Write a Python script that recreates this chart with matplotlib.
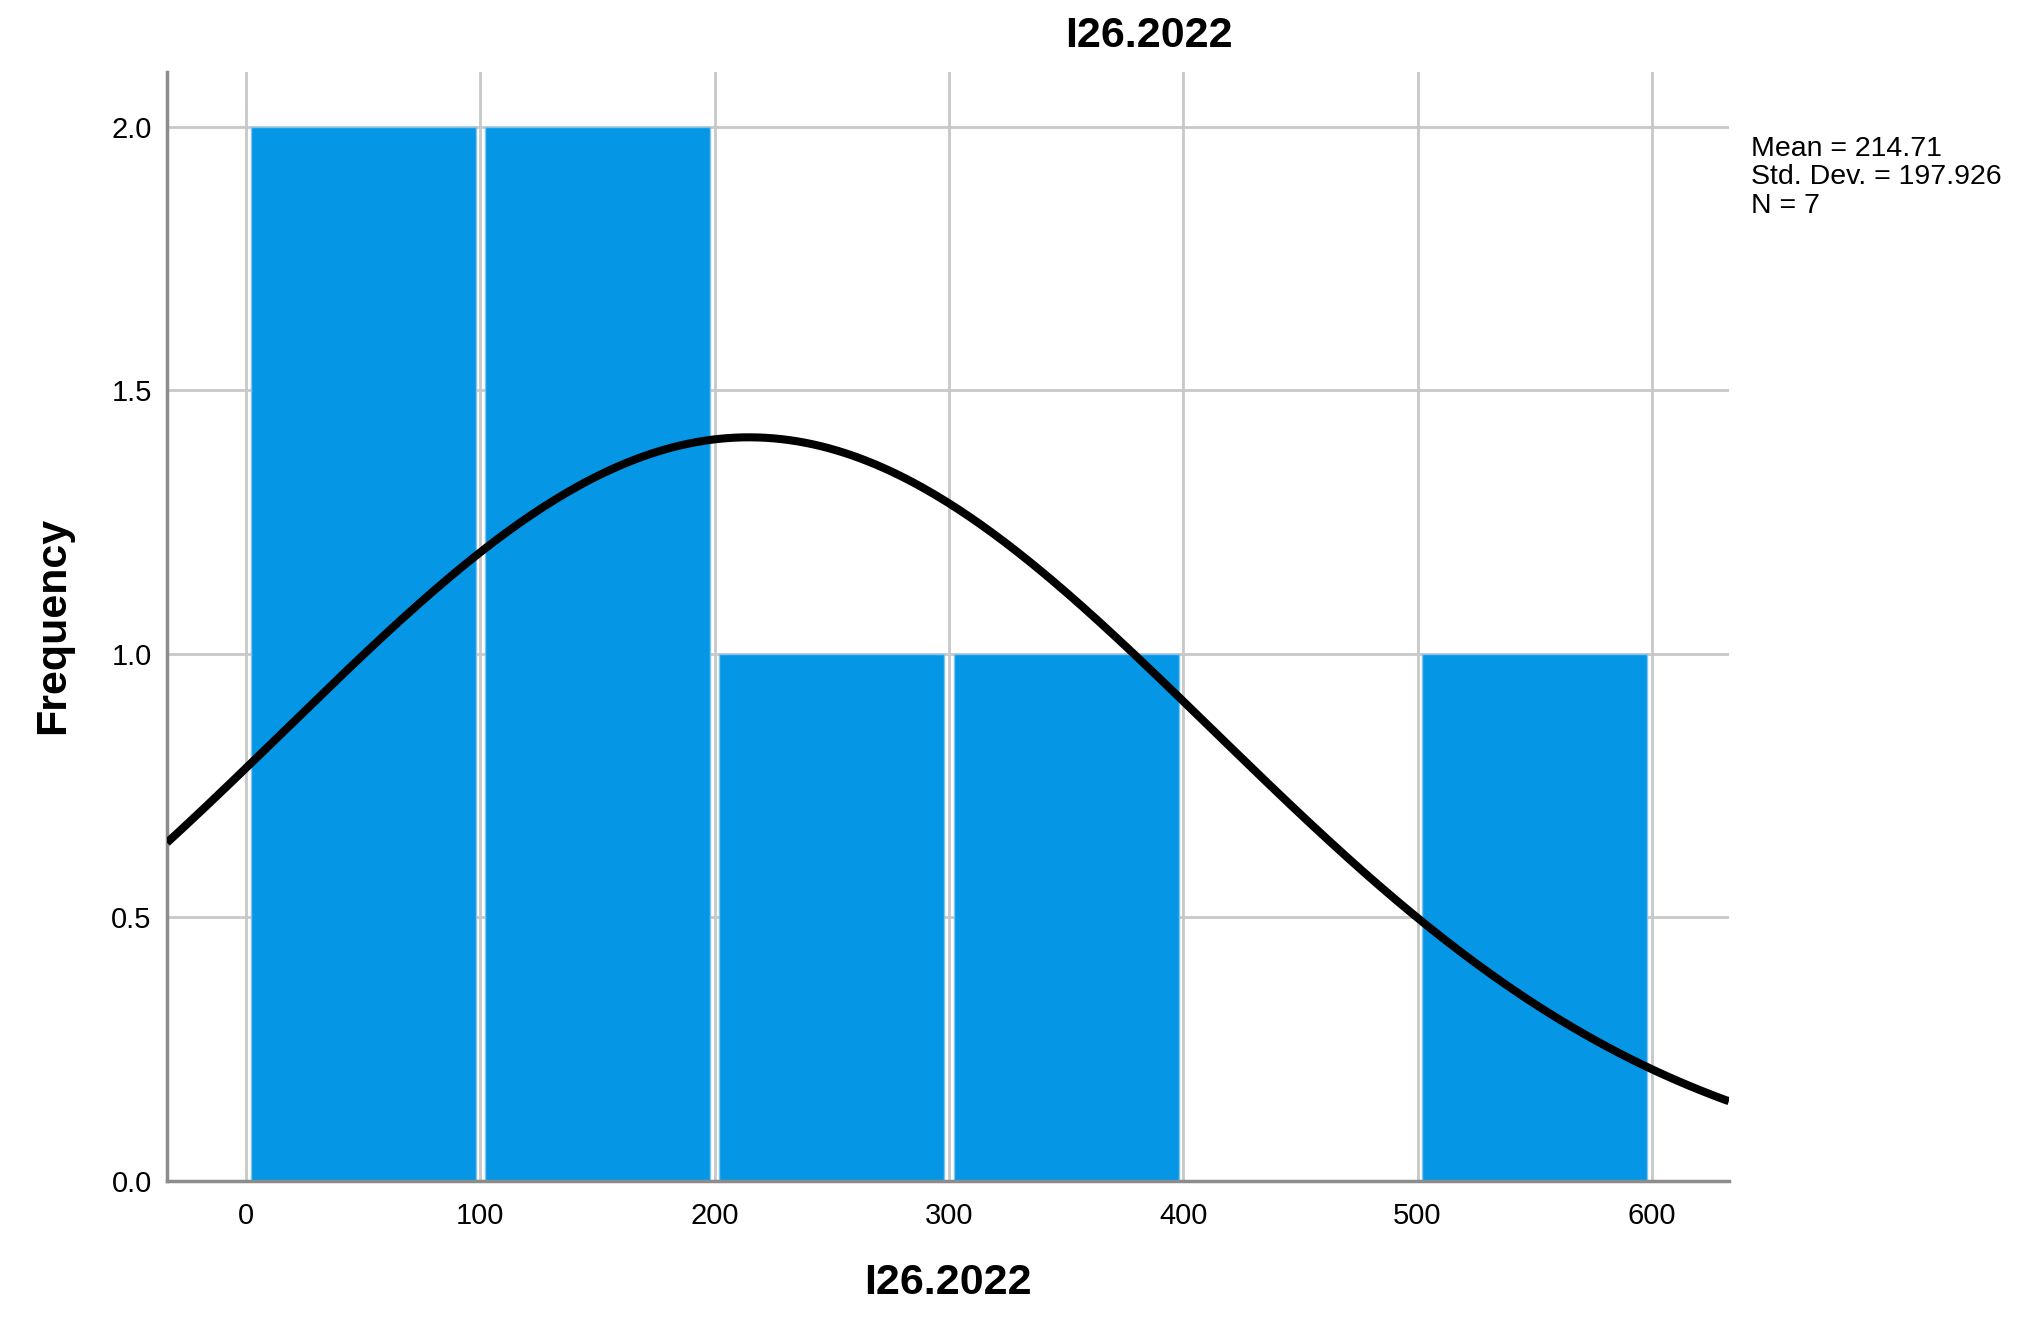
import numpy as np
import matplotlib
matplotlib.use('Agg')
import matplotlib.pyplot as plt

# Histogram of I26.2022 (SPSS style) with fitted normal curve
bin_edges = [0, 100, 200, 300, 400, 500, 600]
counts = [2, 2, 1, 1, 0, 1]
mean = 214.71
std_dev = 197.926
n_obs = 7
var_name = "I26.2022"
y_ticks = [0.0, 0.5, 1.0, 1.5, 2.0]
x_ticks = [0, 100, 200, 300, 400, 500, 600]


def main():
    plt.rcParams['font.family'] = ['Liberation Sans', 'DejaVu Sans']

    fig = plt.figure(figsize=(20.34, 13.33), dpi=100)
    ax = fig.add_axes([0.0821, 0.114, 0.850 - 0.0821, 0.946 - 0.114])

    bar_color = '#0596E6'
    grid_color = '#C8C8C8'
    spine_color = '#8C8C8C'

    # bars sit a little inside each bin so the grid shows in the gaps
    lefts = np.array(bin_edges[:-1], dtype=float)
    widths = np.diff(bin_edges).astype(float)
    ax.bar(lefts + 2, counts, width=widths - 4, align='edge',
           color=bar_color, edgecolor='#7EC4EE', linewidth=1.0, zorder=2)

    # normal curve scaled to counts
    xmin, xmax = -33.7, 632.9
    xs = np.linspace(xmin, xmax, 400)
    scale = n_obs * widths[0]
    ys = scale / (std_dev * np.sqrt(2 * np.pi)) * np.exp(-0.5 * ((xs - mean) / std_dev) ** 2)
    ax.plot(xs, ys, color='black', lw=5.8, zorder=3, solid_capstyle='butt')

    ax.set_xlim(xmin, xmax)
    ax.set_ylim(0, 2.104)
    ax.set_xticks(x_ticks)
    ax.set_yticks(y_ticks)
    ax.set_yticklabels([f"{v:.1f}" for v in y_ticks])
    ax.tick_params(axis='both', length=0, labelsize=21, colors='black')
    ax.tick_params(axis='x', pad=15)
    ax.tick_params(axis='y', pad=11)

    ax.grid(True, color=grid_color, linewidth=2.0, zorder=0)
    ax.set_axisbelow(True)
    for side in ['top', 'right']:
        ax.spines[side].set_visible(False)
    for side in ['left', 'bottom']:
        ax.spines[side].set_color(spine_color)
        ax.spines[side].set_linewidth(2.5)

    ax.set_xlabel(var_name, fontsize=31, fontweight='bold', labelpad=24)
    fig.text(0.026, 0.531, "Frequency", rotation=90, ha='center', va='center',
             fontsize=31, fontweight='bold')
    fig.text(0.565, 0.973, var_name, ha='center', va='center',
             fontsize=31, fontweight='bold')

    stats = f"Mean = {mean:.2f}\nStd. Dev. = {std_dev:.3f}\nN = {n_obs}"
    fig.text(0.861, 0.898, stats, ha='left', va='top', fontsize=20.5,
             linespacing=1.12)

    fig.savefig('out.png', dpi=100)


if __name__ == "__main__":
    main()
